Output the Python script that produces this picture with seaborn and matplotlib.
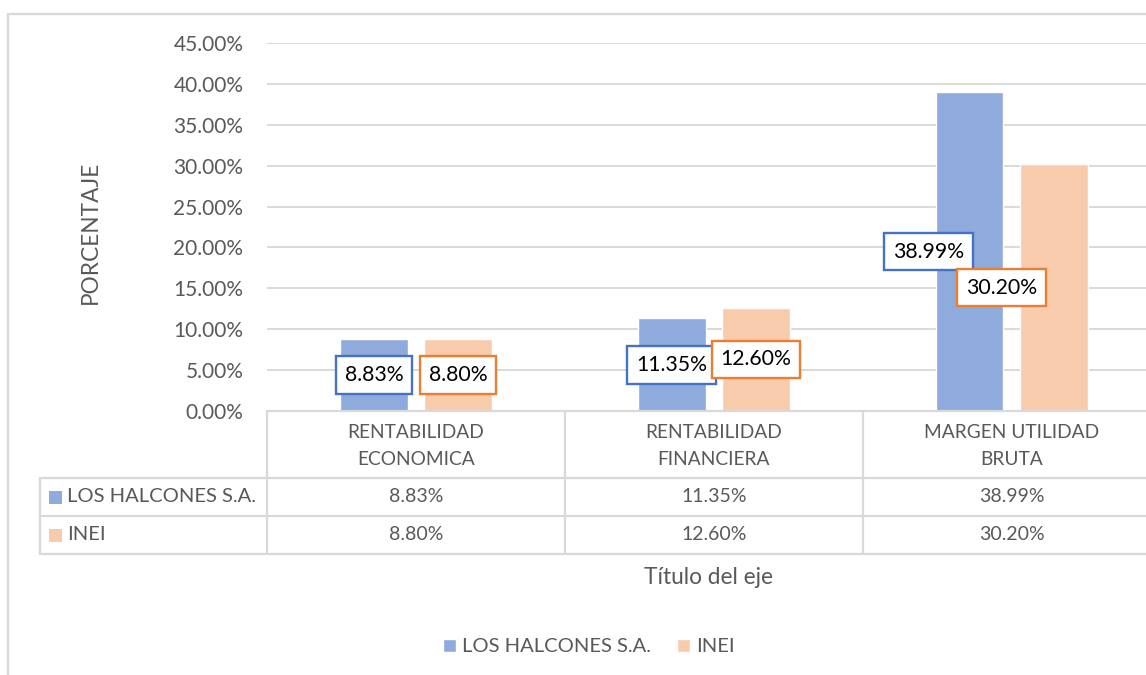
import matplotlib.pyplot as plt
import matplotlib.transforms as mtransforms
from matplotlib.lines import Line2D
from matplotlib.patches import Rectangle
import seaborn as sns
import pandas as pd

# datos
categorias = ["RENTABILIDAD\nECONOMICA", "RENTABILIDAD\nFINANCIERA", "MARGEN UTILIDAD\nBRUTA"]
series = ["LOS HALCONES S.A.", "INEI"]
halcones = [0.0883, 0.1135, 0.3899]
inei = [0.0880, 0.1260, 0.3020]
yticks = [0.00, 0.05, 0.10, 0.15, 0.20, 0.25, 0.30, 0.35, 0.40, 0.45]

df = pd.DataFrame({
    "categoria": categorias * 2,
    "serie": [series[0]] * len(categorias) + [series[1]] * len(categorias),
    "valor": halcones + inei,
})

sns.set_theme(style="white")
plt.rcParams["font.family"] = ["Lato", "DejaVu Sans"]

azul, naranja = "#8FAADC", "#F8CBAD"
borde = ["#4472C4", "#ED7D31"]
gris_txt = "#595959"
gris_lin = "#D9D9D9"

W, H = 1146, 675
fig = plt.figure(figsize=(W / 100, H / 100), dpi=100)
ax = fig.add_axes([267 / W, 1 - 411 / H, (W - 267) / W, (411 - 43) / H])

sns.barplot(data=df, x="categoria", y="valor", hue="serie", palette=[azul, naranja],
            width=0.565, gap=0.2, saturation=1, ax=ax)
ax.get_legend().remove()

ax.set_xlim(-0.5, 2.45)
ax.set_ylim(0, 0.45)
ax.set_yticks(yticks)
ax.set_yticklabels([f"{t*100:.2f}%" for t in yticks], color=gris_txt, fontsize=15)
ax.tick_params(axis="y", length=0, pad=17)
ax.set_xticks([])
ax.set_xlabel("")
ax.set_ylabel("")
ax.yaxis.grid(True, color=gris_lin, lw=1.4)
ax.set_axisbelow(True)
sns.despine(ax=ax, left=True, bottom=True)

# etiquetas de datos
desplaz = [[0, 0, -30], [0, 0, -38]]
for i, cont in enumerate(ax.containers):
    for j, bar in enumerate(cont):
        h = bar.get_height()
        ax.annotate(f"{h*100:.2f}%", (bar.get_x() + bar.get_width() / 2, h / 2),
                    xytext=(desplaz[i][j], 0), textcoords="offset points",
                    ha="center", va="center", fontsize=15.3, color="black",
                    bbox=dict(boxstyle="square,pad=0.42", fc="white", ec=borde[i], lw=1.7))

# tabla de datos
tr = mtransforms.blended_transform_factory(ax.transData, fig.transFigure)
fy = lambda p: 1 - p / H
fx = lambda p: p / W
kw = dict(color=gris_lin, lw=1.6)
fig.add_artist(Line2D([-0.5, 2.6], [fy(411)] * 2, transform=tr, **kw))
for yy in [478, 516, 554]:
    fig.add_artist(Line2D([fx(40), 1.2], [fy(yy)] * 2, transform=fig.transFigure, **kw))
fig.add_artist(Line2D([fx(40)] * 2, [fy(478), fy(554)], transform=fig.transFigure, **kw))
for xb in [-0.5, 0.5, 1.5]:
    fig.add_artist(Line2D([xb, xb], [fy(411), fy(554)], transform=tr, **kw))

for k, cat in enumerate(categorias):
    fig.text(k, fy(446), cat, transform=tr, ha="center", va="center",
             fontsize=13.8, color=gris_txt, linespacing=1.72)
    fig.text(k, fy(497), f"{halcones[k]*100:.2f}%", transform=tr, ha="center",
             va="center", fontsize=14, color=gris_txt)
    fig.text(k, fy(535), f"{inei[k]*100:.2f}%", transform=tr, ha="center",
             va="center", fontsize=14, color=gris_txt)

for nombre, col, yy in [(series[0], azul, 497), (series[1], naranja, 535)]:
    fig.add_artist(Rectangle((fx(49), fy(yy + 6.5)), 13 / W, 13 / H,
                             transform=fig.transFigure, color=col, lw=0))
    fig.text(fx(67), fy(yy), nombre, color=gris_txt, fontsize=14.5, va="center")

# titulos
fig.text(fx(90), fy(232), "PORCENTAJE", rotation=90, ha="center", va="center",
         fontsize=16.3, color=gris_txt)
fig.text(fx(709), fy(578), "Título del eje", ha="center", va="center",
         fontsize=16.3, color=gris_txt)

# leyenda
handles, labels = ax.get_legend_handles_labels()
fig.legend(handles, labels, loc="center", bbox_to_anchor=(fx(589), fy(647)), ncol=2,
           frameon=False, fontsize=14.5, handlelength=0.64, handleheight=0.64,
           handletextpad=0.3, columnspacing=1.3, labelcolor=gris_txt)

# borde del grafico
fig.add_artist(Line2D([fx(8), fx(8)], [0, fy(14)], transform=fig.transFigure, **kw))
fig.add_artist(Line2D([fx(8), 1], [fy(14), fy(14)], transform=fig.transFigure, **kw))

fig.savefig("out.png", dpi=100)
